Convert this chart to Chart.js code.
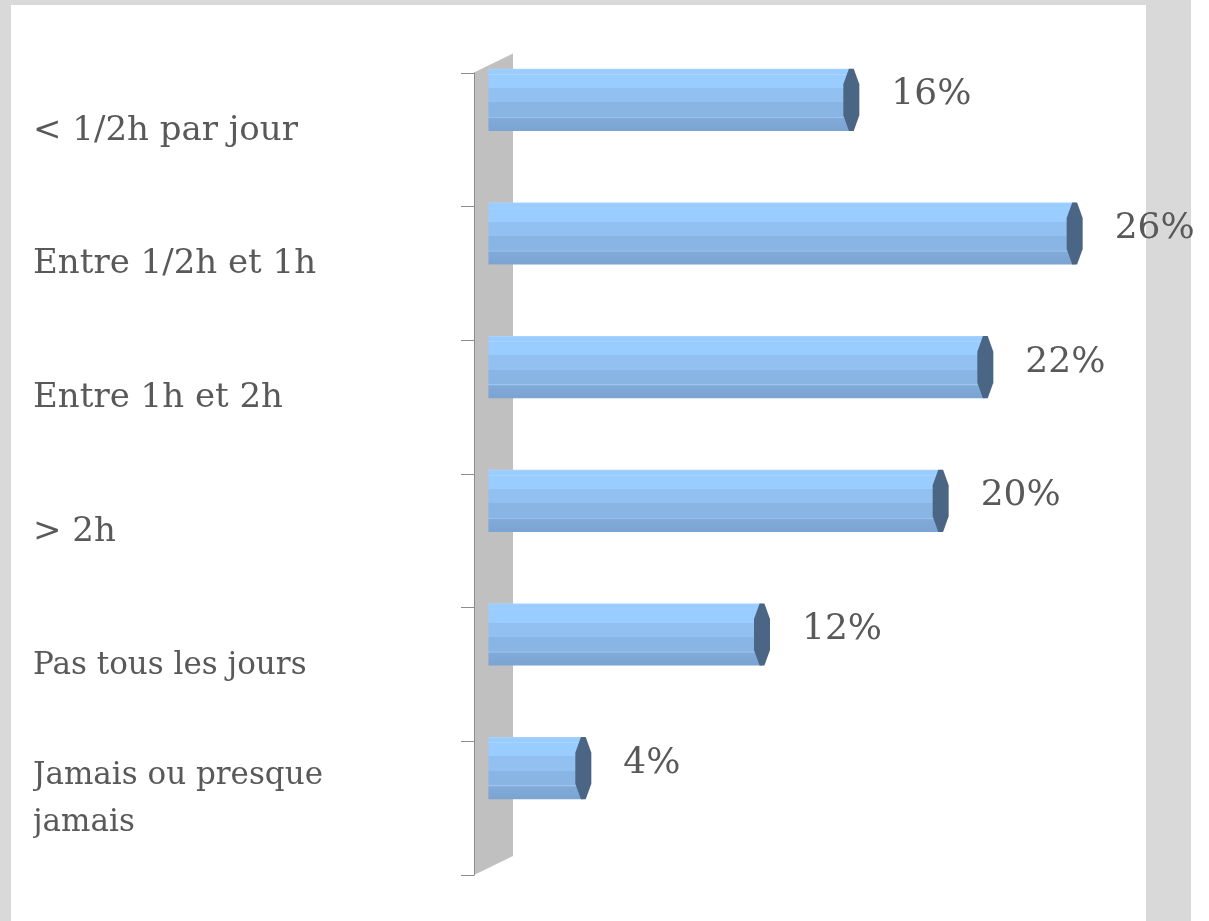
<!DOCTYPE html>
<html>
<head>
<meta charset="utf-8">
<script src="https://cdn.jsdelivr.net/npm/chart.js@4.4.1/dist/chart.umd.min.js"></script>
<style>
  html, body { margin: 0; padding: 0; background: #ffffff; }
  #wrap { width: 1209px; height: 921px; }
</style>
</head>
<body>
<div id="wrap"><canvas id="timeChart" width="1209" height="921"></canvas></div>
<script>
// Data
const categories = [
    "< 1/2h par jour",
    "Entre 1/2h et 1h",
    "Entre 1h et 2h",
    "> 2h",
    "Pas tous les jours",
    ["Jamais ou presque", "jamais"]
];
const percentValues = [16, 26, 22, 20, 12, 4];
const axisMin = 0;
const axisMax = 30;

const textColor = '#595959';
const serif = "'DejaVu Serif', 'Liberation Serif', serif";

// Banded fill that gives each bar its rounded / prism look
function barFill(ctx) {
    const chart = ctx.chart;
    const yScale = chart.scales.y;
    if (!chart.chartArea || !yScale || ctx.dataIndex === undefined) {
        return '#91c1f2';
    }
    const band = yScale.height / categories.length;
    const half = band * 0.465 / 2;
    const mid = yScale.getPixelForValue(ctx.dataIndex);
    const g = chart.ctx.createLinearGradient(0, mid - half, 0, mid + half);
    g.addColorStop(0, '#a9d3ff');
    g.addColorStop(0.03, '#99ccff');
    g.addColorStop(0.08, '#99ccff');
    g.addColorStop(0.09, '#b0d6ff');
    g.addColorStop(0.1, '#99ccff');
    g.addColorStop(0.31, '#99ccff');
    g.addColorStop(0.31, '#91c0f1');
    g.addColorStop(0.54, '#91c0f1');
    g.addColorStop(0.54, '#88b5e4');
    g.addColorStop(0.77, '#88b5e4');
    g.addColorStop(0.78, '#a3c6ee');
    g.addColorStop(0.8, '#80aad8');
    g.addColorStop(1, '#7ca4d2');
    return g;
}

// Page background: grey frame around the white sheet
const backgroundPlugin = {
    id: 'sheetBackground',
    beforeDraw(chart) {
        const c = chart.ctx;
        c.save();
        c.fillStyle = '#ffffff';
        c.fillRect(0, 0, chart.width, chart.height);
        c.fillStyle = '#d9d9d9';
        c.fillRect(0, 0, 1191, 5);
        c.fillRect(0, 0, 11, chart.height);
        c.fillRect(1146, 0, 45, chart.height);
        c.restore();
    }
};

// Grey back wall, vertical axis line and tick marks (3D look)
const wallPlugin = {
    id: 'backWall',
    beforeDatasetsDraw(chart) {
        const c = chart.ctx;
        const area = chart.chartArea;
        const band = (area.bottom - area.top) / categories.length;
        const frontX = area.left - 20;
        const backX = area.left + 19;
        const frontTop = area.top + 39.5;
        const frontBottom = area.bottom + 40;
        c.save();
        c.fillStyle = '#c0c0c0';
        c.beginPath();
        c.moveTo(frontX, frontTop);
        c.lineTo(backX, frontTop - 19);
        c.lineTo(backX, frontBottom - 19);
        c.lineTo(frontX, frontBottom);
        c.closePath();
        c.fill();

        c.strokeStyle = '#8c8c8c';
        c.lineWidth = 1;
        c.beginPath();
        c.moveTo(frontX + 0.5, frontTop);
        c.lineTo(frontX + 0.5, frontBottom);
        for (let i = 0; i <= categories.length; i++) {
            const y = Math.round(frontTop + i * band) + 0.5;
            c.moveTo(frontX - 13, y);
            c.lineTo(frontX + 0.5, y);
        }
        c.stroke();
        c.restore();
    }
};

// Dark end cap on each bar and the value label next to it
const capPlugin = {
    id: 'barCaps',
    afterDatasetsDraw(chart) {
        const c = chart.ctx;
        const meta = chart.getDatasetMeta(0);
        c.save();
        meta.data.forEach((bar, i) => {
            const h = bar.height;
            const top = bar.y - h / 2;
            const w = 8;
            c.fillStyle = '#4b6584';
            c.beginPath();
            c.moveTo(bar.x - w * 0.3, top);
            c.lineTo(bar.x + w * 0.3, top);
            c.lineTo(bar.x + w, top + h * 0.25);
            c.lineTo(bar.x + w, top + h * 0.75);
            c.lineTo(bar.x + w * 0.3, top + h);
            c.lineTo(bar.x - w * 0.3, top + h);
            c.lineTo(bar.x - w, top + h * 0.75);
            c.lineTo(bar.x - w, top + h * 0.25);
            c.closePath();
            c.fill();

            c.fillStyle = textColor;
            c.font = `36px ${serif}`;
            c.textAlign = 'left';
            c.textBaseline = 'middle';
            c.fillText(percentValues[i] + '%', bar.x + 40, bar.y - 5);
        });
        c.restore();
    }
};

window.onload = function() {
    const ctx = document.getElementById('timeChart').getContext('2d');
    new Chart(ctx, {
        type: 'bar',
        data: {
            labels: categories,
            datasets: [{
                data: percentValues,
                base: -0.25,
                backgroundColor: barFill,
                borderWidth: 0,
                barPercentage: 0.465,
                categoryPercentage: 1,
                clip: false
            }]
        },
        options: {
            indexAxis: 'y',
            responsive: false,
            animation: false,
            layout: {
                padding: { left: 33, right: 45, top: 33, bottom: 86 }
            },
            plugins: {
                legend: { display: false },
                tooltip: { enabled: false }
            },
            scales: {
                x: {
                    display: false,
                    min: axisMin,
                    max: axisMax
                },
                y: {
                    grid: { display: false },
                    border: { display: false },
                    afterFit(scale) {
                        scale.width = 461;
                        scale.paddingTop = 0;
                        scale.paddingBottom = 0;
                    },
                    ticks: {
                        color: textColor,
                        crossAlign: 'far',
                        padding: 0,
                        labelOffset: 31,
                        font(c) {
                            if (c.index >= 4) {
                                return { family: serif, size: 31, lineHeight: '47px' };
                            }
                            return { family: serif, size: 34 };
                        }
                    }
                }
            }
        },
        plugins: [backgroundPlugin, wallPlugin, capPlugin]
    });
};
</script>
</body>
</html>
